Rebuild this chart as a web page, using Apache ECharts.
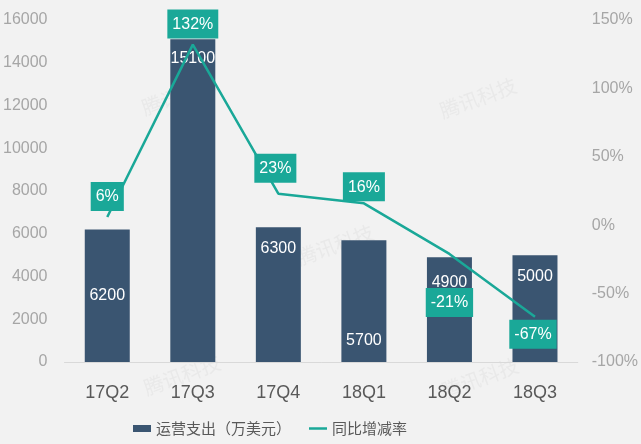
<!DOCTYPE html>
<html>
<head>
<meta charset="utf-8">
<script src="https://cdn.jsdelivr.net/npm/echarts@6/dist/echarts.min.js"></script>
<style>
html,body{margin:0;padding:0;background:#f2f2f2;}
#c{width:641px;height:444px;}
</style>
</head>
<body>
<div id="c"></div>
<script>
var categories = ['17Q2', '17Q3', '17Q4', '18Q1', '18Q2', '18Q3'];
var opexValues = [6200, 15100, 6300, 5700, 4900, 5000];
var yoyValues = [6, 132, 23, 16, -21, -67];
var leftTicks = [0, 16000, 2000];
var rightTicks = [-100, 150, 50];
var seriesNames = ['运营支出（万美元）', '同比增减率'];

var BAR = '#3a5571';
var TEAL = '#1aa898';
var FONT = '"Liberation Sans", Arial, "Noto Sans CJK SC", sans-serif';

// per-item label placement (styling only)
var barLabelPos = [
  {position: 'inside'},
  {position: 'insideTop', distance: 11},
  {position: 'insideTop', distance: 13},
  {position: 'insideBottom', distance: 13},
  {position: 'insideTop', distance: 17},
  {position: 'insideTop', distance: 13}
];
var lineLabelPos = [
  {position: 'top', distance: 6},
  {position: 'top', distance: 6},
  {position: 'top', distance: 11, offset: [-3, 0]},
  {position: 'top', distance: 2},
  {position: 'bottom', distance: 34},
  {position: 'bottom', distance: 3, offset: [-2, 0]}
];

var barData = opexValues.map(function (v, i) {
  return {value: v, label: barLabelPos[i]};
});
var lineData = yoyValues.map(function (v, i) {
  return {value: v, label: lineLabelPos[i]};
});

var chart = echarts.init(document.getElementById('c'));

var wm = [[180, 95], [478, 98], [335, 245], [182, 375], [480, 378]].map(function (p) {
  return {
    type: 'text', x: p[0], y: p[1], rotation: 20 * Math.PI / 180, silent: true, z: -1,
    style: {text: '腾讯科技', fill: '#e9e9e9', font: '20px "Noto Sans CJK SC"', align: 'center', verticalAlign: 'middle'}
  };
});

chart.setOption({
  backgroundColor: '#f2f2f2',
  animation: false,
  textStyle: {fontFamily: FONT},
  graphic: wm,
  grid: {left: 62, right: 63, top: 20, bottom: 82},
  legend: {
    left: 128, top: 416,
    itemWidth: 18, itemHeight: 7, itemGap: 18,
    textStyle: {fontSize: 15, color: '#595959', fontFamily: '"Noto Sans CJK SC", sans-serif'},
    data: [
      {name: seriesNames[0], icon: 'rect'},
      {name: seriesNames[1], icon: 'path://M0,0 L18,0 L18,2.5 L0,2.5 Z', itemStyle: {color: TEAL}}
    ]
  },
  xAxis: {
    type: 'category',
    data: categories,
    axisLine: {lineStyle: {color: '#d9d9d9', width: 1}},
    axisTick: {show: false},
    axisLabel: {fontSize: 18, color: '#595959', margin: 22}
  },
  yAxis: [
    {
      type: 'value', min: leftTicks[0], max: leftTicks[1], interval: leftTicks[2],
      axisLine: {show: false}, axisTick: {show: false}, splitLine: {show: false},
      axisLabel: {fontSize: 16, color: '#a6a6a6', margin: 17, formatter: function (v) { return String(v); }}
    },
    {
      type: 'value', min: rightTicks[0], max: rightTicks[1], interval: rightTicks[2],
      axisLine: {show: false}, axisTick: {show: false}, splitLine: {show: false},
      axisLabel: {fontSize: 16, color: '#a6a6a6', margin: 14, formatter: function (v) { return v + '%'; }}
    }
  ],
  series: [
    {
      name: seriesNames[0], type: 'bar', data: barData, barWidth: 45,
      itemStyle: {color: BAR},
      label: {show: true, color: '#ffffff', fontSize: 16}
    },
    {
      name: seriesNames[1], type: 'line', yAxisIndex: 1, data: lineData,
      symbol: 'circle', symbolSize: 0, showSymbol: true,
      lineStyle: {color: TEAL, width: 2.5}, itemStyle: {color: TEAL},
      z: 5,
      label: {
        show: true, color: '#ffffff', fontSize: 16, backgroundColor: TEAL,
        padding: [7, 5, 6, 5], formatter: '{c}%'
      }
    }
  ]
});
</script>
</body>
</html>
